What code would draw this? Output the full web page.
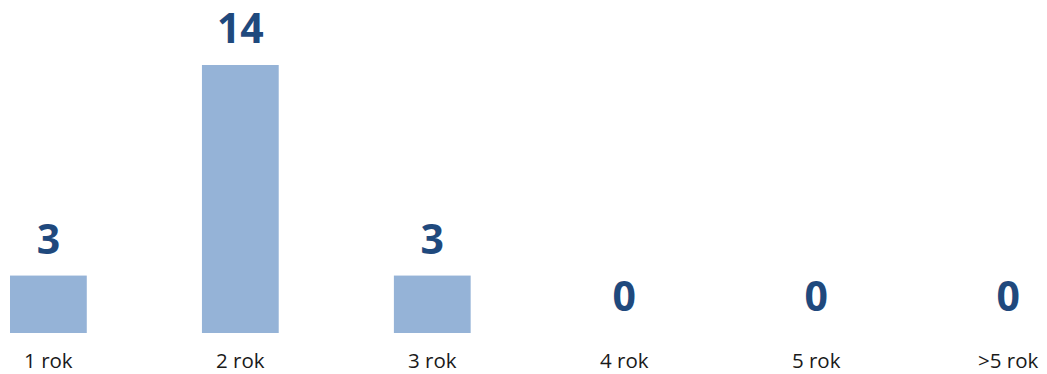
<!DOCTYPE html>
<html>
<head>
<meta charset="utf-8">
<script src="https://cdn.jsdelivr.net/npm/d3@7"></script>
<style>
  body { margin: 0; background: #fff; }
  svg { display: block; }
</style>
</head>
<body>
<div id="chart"></div>
<script>
const categories = ["1 rok", "2 rok", "3 rok", "4 rok", "5 rok", ">5 rok"];
const values = [3, 14, 3, 0, 0, 0];

const width = 1047;
const height = 374;
const baseline = 333;

const svg = d3
  .select("#chart")
  .append("svg")
  .attr("width", width)
  .attr("height", height);

const x = d3
  .scaleBand()
  .domain(categories)
  .range([10, 1046.5])
  .paddingInner(0.6)
  .paddingOuter(0);

const y = d3
  .scaleLinear()
  .domain([0, 14])
  .range([baseline, 65]);

// bars
svg
  .selectAll(".bar")
  .data(values)
  .join("rect")
  .attr("class", "bar")
  .attr("x", (d, i) => x(categories[i]))
  .attr("y", (d) => y(d))
  .attr("width", x.bandwidth())
  .attr("height", (d) => baseline - y(d))
  .attr("fill", "#95b3d7");

// value labels
svg
  .selectAll(".val")
  .data(values)
  .join("text")
  .attr("class", "val")
  .attr("x", (d, i) => x(categories[i]) + x.bandwidth() / 2)
  .attr("y", (d) => y(d) - 22)
  .attr("text-anchor", "middle")
  .style("font-family", "'Open Sans', sans-serif")
  .style("font-weight", "bold")
  .style("font-size", "41px")
  .style("fill", "#1f497d")
  .text((d) => d);

// category labels
svg
  .selectAll(".cat")
  .data(categories)
  .join("text")
  .attr("class", "cat")
  .attr("x", (d) => x(d) + x.bandwidth() / 2)
  .attr("y", 368)
  .attr("text-anchor", "middle")
  .style("font-family", "'Open Sans', sans-serif")
  .style("font-size", "20.5px")
  .style("fill", "#1a1a1a")
  .text((d) => d);
</script>
</body>
</html>
